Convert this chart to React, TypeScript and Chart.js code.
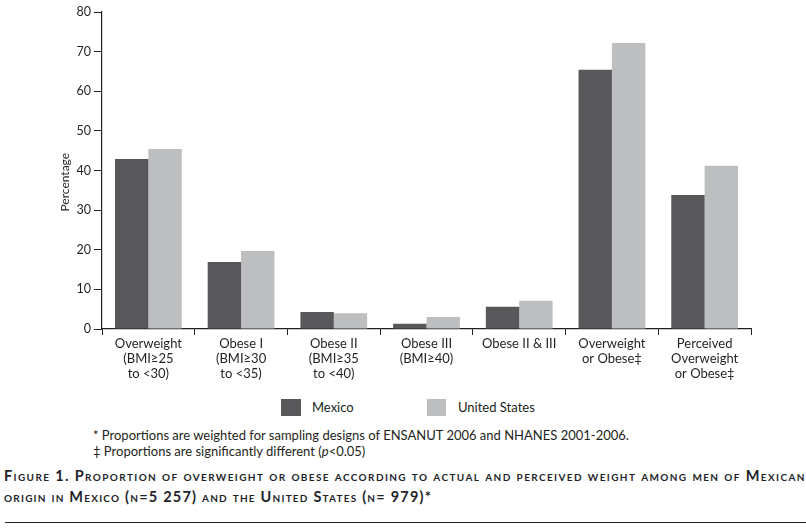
import React, { useEffect, useRef } from "react";
import { Chart, registerables } from "chart.js";

Chart.register(...registerables);

const categories: string[][] = [
  ["Overweight", "(BMI≥25", "to <30)"],
  ["Obese I", "(BMI≥30", "to <35)"],
  ["Obese II", "(BMI≥35", "to <40)"],
  ["Obese III", "(BMI≥40)"],
  ["Obese II & III"],
  ["Overweight", "or Obese‡"],
  ["Perceived", "Overweight", "or Obese‡"],
];
const seriesNames = ["Mexico", "United States"];
const mexicoValues = [42.9, 16.9, 4.3, 1.3, 5.6, 65.4, 33.8];
const usValues = [45.4, 19.7, 4.0, 3.0, 7.1, 72.2, 41.2];
const yMin = 0;
const yMax = 80;
const yStep = 10;
const yTitle = "Percentage";
const footnotes = [
  "* Proportions are weighted for sampling designs of ENSANUT 2006 and NHANES 2001-2006.",
];
const captionLine1 =
  "Figure 1. Proportion of overweight or obese according to actual and perceived weight among men of Mexican";
const captionLine2 = "origin in Mexico (n=5 257) and the United States (n= 979)*";

const DARK = "#58585a";
const LIGHT = "#bdbec0";
const INK = "#231f20";
const FONT = "Lato, 'Open Sans', sans-serif";

const yTitlePlugin = {
  id: "yTitlePlugin",
  afterDraw(chart: any) {
    const ctx = chart.ctx;
    const area = chart.chartArea;
    ctx.save();
    ctx.fillStyle = INK;
    ctx.font = "12px " + FONT;
    ctx.textAlign = "center";
    ctx.textBaseline = "middle";
    ctx.translate(65, area.top + (area.bottom - area.top) * 0.537);
    ctx.rotate(-Math.PI / 2);
    ctx.fillText(yTitle, 0, 0);
    ctx.restore();
  },
};

export default function App() {
  const ref = useRef<HTMLCanvasElement | null>(null);

  useEffect(() => {
    if (!ref.current) return;
    const chart = new Chart(ref.current, {
      type: "bar",
      data: {
        labels: categories,
        datasets: [
          {
            label: seriesNames[0],
            data: mexicoValues,
            backgroundColor: DARK,
            borderWidth: 0,
          },
          {
            label: seriesNames[1],
            data: usValues,
            backgroundColor: LIGHT,
            borderWidth: 0,
          },
        ],
      },
      options: {
        responsive: false,
        animation: false,
        layout: { padding: { left: 0, right: 55, top: 12, bottom: 0 } },
        plugins: {
          legend: { display: false },
          tooltip: { enabled: false },
          title: { display: false },
        },
        datasets: {
          bar: { categoryPercentage: 0.72, barPercentage: 1.0 },
        },
        scales: {
          x: {
            grid: {
              display: true,
              offset: true,
              drawOnChartArea: false,
              drawTicks: true,
              tickLength: 6,
              color: INK,
              lineWidth: 1,
            },
            border: { display: true, color: INK, width: 1.2 },
            ticks: {
              color: INK,
              padding: 1,
              maxRotation: 0,
              autoSkip: false,
              font: { family: FONT, size: 13, lineHeight: 1.16 },
            },
            afterFit: (scale: any) => {
              scale.height = 61;
            },
          },
          y: {
            min: yMin,
            max: yMax,
            grid: {
              display: true,
              drawOnChartArea: false,
              drawTicks: true,
              tickLength: 8,
              color: INK,
              lineWidth: 1,
            },
            border: { display: true, color: INK, width: 1.2 },
            ticks: {
              stepSize: yStep,
              color: INK,
              padding: 3,
              font: { family: FONT, size: 12.5 },
            },
            afterFit: (scale: any) => {
              scale.width = 102;
            },
          },
        },
      },
      plugins: [yTitlePlugin],
    });
    return () => chart.destroy();
  }, []);

  return (
    <div
      style={{
        position: "absolute",
        left: 0,
        top: 0,
        width: 806,
        height: 532,
        background: "#fff",
        fontFamily: FONT,
        color: INK,
        overflow: "hidden",
      }}
    >
      <canvas
        ref={ref}
        width={806}
        height={390}
        style={{ position: "absolute", left: 0, top: 0, width: 806, height: 390 }}
      />
      {/* legend */}
      <div style={{ position: "absolute", left: 281, top: 399, width: 20, height: 17, background: DARK }} />
      <div style={{ position: "absolute", left: 312, top: 398, fontSize: 13, lineHeight: "18px" }}>
        {seriesNames[0]}
      </div>
      <div style={{ position: "absolute", left: 427, top: 399, width: 19, height: 17, background: LIGHT }} />
      <div style={{ position: "absolute", left: 458, top: 398, fontSize: 13, lineHeight: "18px" }}>
        {seriesNames[1]}
      </div>
      {/* footnotes */}
      <div style={{ position: "absolute", left: 93, top: 427, fontSize: 13, lineHeight: "16px", whiteSpace: "nowrap" }}>
        <div>{footnotes[0]}</div>
        <div>
          ‡ Proportions are significantly different (<i>p</i>&lt;0.05)
        </div>
      </div>
      {/* caption */}
      <div
        style={{
          position: "absolute",
          left: 4,
          top: 465,
          fontSize: 14.5,
          fontWeight: 700,
          fontVariant: "small-caps",
          lineHeight: "21px",
          whiteSpace: "nowrap",
          color: "#231f2a",
        }}
      >
        <div style={{ letterSpacing: "1.38px" }}>{captionLine1}</div>
        <div style={{ letterSpacing: "1.22px" }}>{captionLine2}</div>
      </div>
      <div style={{ position: "absolute", left: 5, top: 522, width: 801, height: 1, background: INK }} />
    </div>
  );
}
